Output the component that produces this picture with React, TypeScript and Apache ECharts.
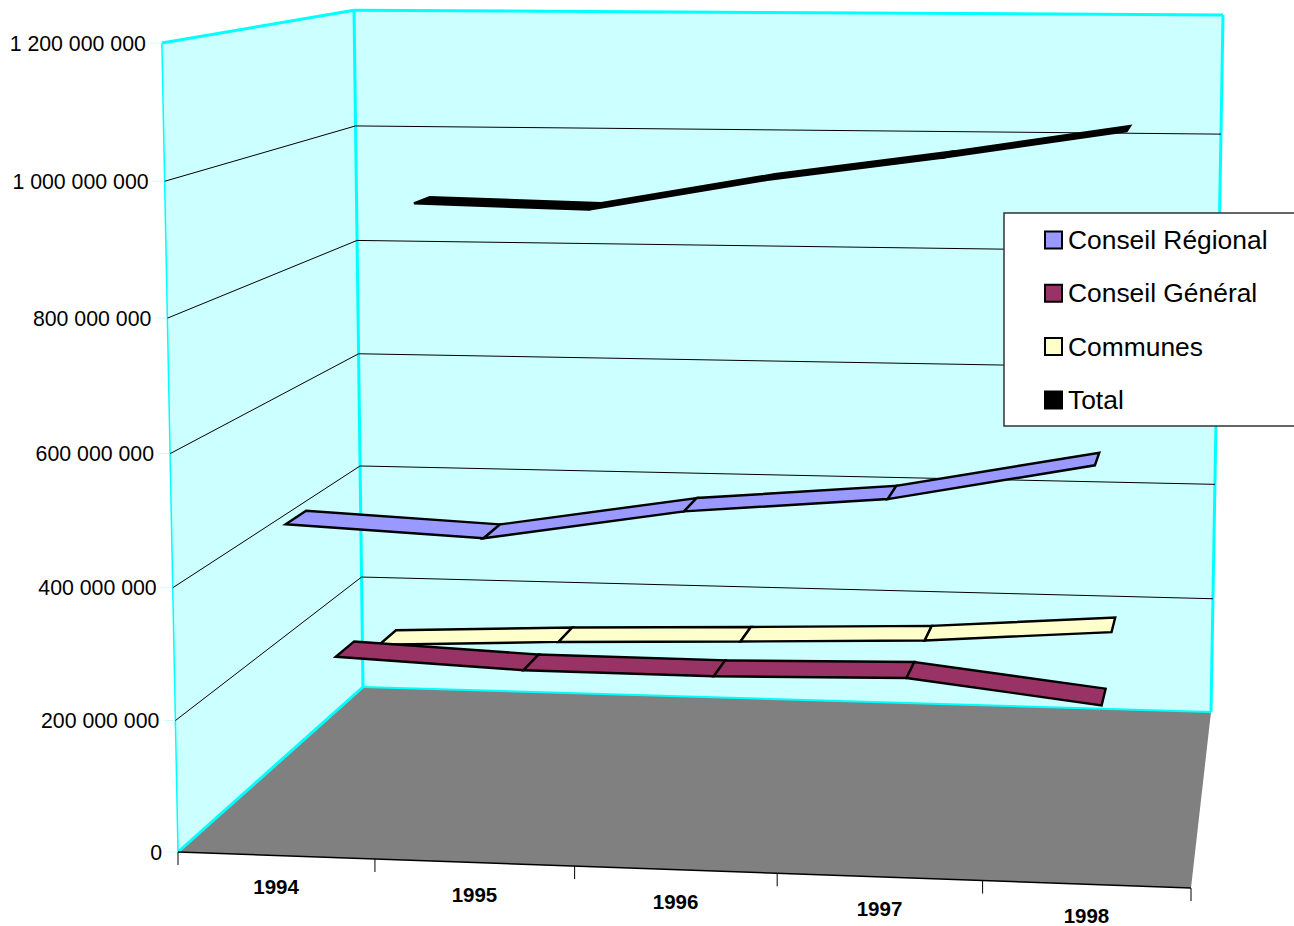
import React, { useEffect, useRef } from "react";
import * as echarts from "echarts";

const years = ["1994", "1995", "1996", "1997", "1998"];
const seriesNames = ["Conseil Régional", "Conseil Général", "Communes", "Total"];
const regional = [484e6, 470e6, 517e6, 542e6, 598e6];
const general = [223e6, 210e6, 209e6, 215e6, 181e6];
const communes = [183e6, 196e6, 205e6, 215e6, 237e6];
const total = [885e6, 878e6, 931e6, 972e6, 1018e6];
const seriesValues = [regional, general, communes, total];
const seriesColors = ["#9999FF", "#993366", "#FFFFCC", "#000000"];
const yTicks = [0, 200e6, 400e6, 600e6, 800e6, 1000e6, 1200e6];
const yTickLabels = ["0", "200 000 000", "400 000 000", "600 000 000", "800 000 000", "1 000 000 000", "1 200 000 000"];

const W = 1294;
const H = 926;
const floorQuad = [[178, 852], [1191, 888], [1211, 712], [363, 687]];
const frontHeight = 809;
const convergeX = 732;
const convergeRate = 3.6e-5;
const heightWarp = 0.97;
const ribbonHalfDepth = 0.052;

function homography(q: number[][]) {
  const [[x0, y0], [x1, y1], [x2, y2], [x3, y3]] = q;
  const dx1 = x1 - x2, dx2 = x3 - x2, sx = x0 - x1 + x2 - x3;
  const dy1 = y1 - y2, dy2 = y3 - y2, sy = y0 - y1 + y2 - y3;
  const det = dx1 * dy2 - dx2 * dy1;
  const g = (sx * dy2 - dx2 * sy) / det;
  const h = (dx1 * sy - sx * dy1) / det;
  const a = x1 - x0 + g * x1, b = x3 - x0 + h * x3;
  const d = y1 - y0 + g * y1, e = y3 - y0 + h * y3;
  return (u: number, t: number) => {
    const w = g * u + h * t + 1;
    return [(a * u + b * t + x0) / w, (d * u + e * t + y0) / w, w];
  };
}
const floorH = homography(floorQuad);

function project(u: number, v: number, d: number) {
  const [fx, fy, w] = floorH(u, d);
  const f = (v * heightWarp) / (1 - v + v * heightWarp);
  const rise = (frontHeight * f) / w;
  return [fx + (fx - convergeX) * convergeRate * rise, fy - rise];
}

function unit(api: any, params: any, cat: number, value: number) {
  const p = api.coord([cat, value]);
  const cs = params.coordSys;
  return [(p[0] - cs.x) / cs.width, 1 - (p[1] - cs.y) / cs.height];
}

const black = "#000000";
const cyan = "#00FFFF";
const wall = "#CCFFFF";

function poly(points: number[][], fill: string, stroke: string, lineWidth: number) {
  return { type: "polygon", shape: { points }, style: { fill, stroke, lineWidth, lineJoin: "miter" } };
}
function line(a: number[], b: number[], stroke: string, lineWidth: number) {
  return { type: "line", shape: { x1: a[0], y1: a[1], x2: b[0], y2: b[1] }, style: { stroke, lineWidth } };
}

function ribbonSeries(k: number) {
  const values = seriesValues[k];
  const depth = (k + 0.5) / seriesValues.length;
  return {
    type: "custom",
    name: seriesNames[k],
    coordinateSystem: "cartesian2d",
    clip: false,
    z: 10 - k,
    itemStyle: { color: seriesColors[k] },
    data: values.map((v, i) => [i, v]),
    encode: { x: 0, y: 1 },
    renderItem(params: any, api: any) {
      const i = api.value(0);
      if (i >= values.length - 1) return null;
      const a = unit(api, params, i, values[i]);
      const b = unit(api, params, i + 1, values[i + 1]);
      const pts = [
        project(a[0], a[1], depth - ribbonHalfDepth),
        project(b[0], b[1], depth - ribbonHalfDepth),
        project(b[0], b[1], depth + ribbonHalfDepth),
        project(a[0], a[1], depth + ribbonHalfDepth),
      ];
      return poly(pts, seriesColors[k], black, 2.4);
    },
  };
}

const wallsSeries = {
  type: "custom",
  coordinateSystem: "cartesian2d",
  clip: false,
  silent: true,
  z: 1,
  data: [[0, 0]],
  renderItem() {
    const fl = project(0, 0, 0), bl = project(0, 0, 1), br = project(1, 0, 1), fr = project(1, 0, 0);
    const tfl = project(0, 1, 0), tbl = project(0, 1, 1), tbr = project(1, 1, 1);
    return {
      type: "group",
      children: [
        poly([fl, bl, tbl, tfl], wall, "none", 0),
        poly([bl, br, tbr, tbl], wall, "none", 0),
        poly([fl, fr, br, bl], "#808080", "none", 0),
        line(fl, tfl, cyan, 1.5),
        line(tfl, tbl, cyan, 3),
        line(tbl, tbr, cyan, 3),
        line(tbr, br, cyan, 3),
        line(tbl, bl, cyan, 3),
        line(bl, fl, cyan, 3),
        line(bl, br, cyan, 2),
        line(fl, fr, black, 1.5),
      ],
    };
  },
};

const gridSeries = {
  type: "custom",
  coordinateSystem: "cartesian2d",
  clip: false,
  silent: true,
  z: 2,
  data: yTicks.map((t, i) => [0, t, i]),
  encode: { x: 0, y: 1 },
  renderItem(params: any, api: any) {
    const i = api.value(2);
    const v = unit(api, params, 0, yTicks[i])[1];
    const a = project(0, v, 0), b = project(0, v, 1), c = project(1, v, 1);
    const children: any[] = [
      line([a[0] - 12, a[1]], a, "#CCFFFF", 1),
      {
        type: "text",
        style: {
          text: yTickLabels[i], x: a[0] - 16, y: a[1] + 0.5,
          fill: black, font: '21.3px "Liberation Sans"', textAlign: "right", textVerticalAlign: "middle",
        },
      },
    ];
    if (i > 0 && i < yTicks.length - 1) {
      children.push(line(a, b, black, 1), line(b, c, black, 1));
    }
    return { type: "group", children };
  },
};

const xAxisSeries = {
  type: "custom",
  coordinateSystem: "cartesian2d",
  clip: false,
  silent: true,
  z: 2,
  data: years.map((_, i) => [i, 0]),
  encode: { x: 0, y: 1 },
  renderItem(params: any, api: any) {
    const i = api.value(0);
    const u = unit(api, params, i, 0)[0];
    const step = 1 / years.length;
    const c = project(u, 0, 0);
    const l = project(u - step / 2, 0, 0);
    const r = project(u + step / 2, 0, 0);
    const children: any[] = [
      line(l, [l[0], l[1] + 13], black, 1),
      {
        type: "text",
        style: {
          text: years[i], x: c[0], y: c[1] + 31.5,
          fill: black, font: 'bold 20.5px "Liberation Sans"', textAlign: "center", textVerticalAlign: "middle",
        },
      },
    ];
    if (i === years.length - 1) children.push(line(r, [r[0], r[1] + 13], black, 1));
    return { type: "group", children };
  },
};

export default function App() {
  const ref = useRef<HTMLDivElement>(null);
  useEffect(() => {
    const chart = echarts.init(ref.current!, undefined, { renderer: "svg" });
    chart.setOption({
      animation: false,
      backgroundColor: "#FFFFFF",
      grid: { left: 0, right: 0, top: 0, bottom: 0 },
      xAxis: { type: "category", data: years, show: false },
      yAxis: { type: "value", min: 0, max: 1200000000, show: false },
      legend: {
        show: true,
        orient: "vertical",
        left: 1004,
        top: 213,
        z: 20,
        selectedMode: false,
        backgroundColor: "#FFFFFF",
        borderColor: "#333333",
        borderWidth: 1.5,
        borderRadius: 0,
        padding: [14, 30, 13, 40],
        itemGap: 27.3,
        itemWidth: 17,
        itemHeight: 17,
        icon: "rect",
        textStyle: {
          fontFamily: "Liberation Sans", fontSize: 26.4, color: black, lineHeight: 26, padding: [0, 0, 0, 1],
        },
        data: seriesNames.map((name, k) => ({
          name,
          itemStyle: { color: seriesColors[k], borderColor: black, borderWidth: 2 },
        })),
      },
      series: [wallsSeries, gridSeries, xAxisSeries, ...seriesNames.map((_, k) => ribbonSeries(k))],
    });
    return () => chart.dispose();
  }, []);
  return <div ref={ref} style={{ position: "absolute", left: 0, top: 0, width: W, height: H, overflow: "hidden" }} />;
}
